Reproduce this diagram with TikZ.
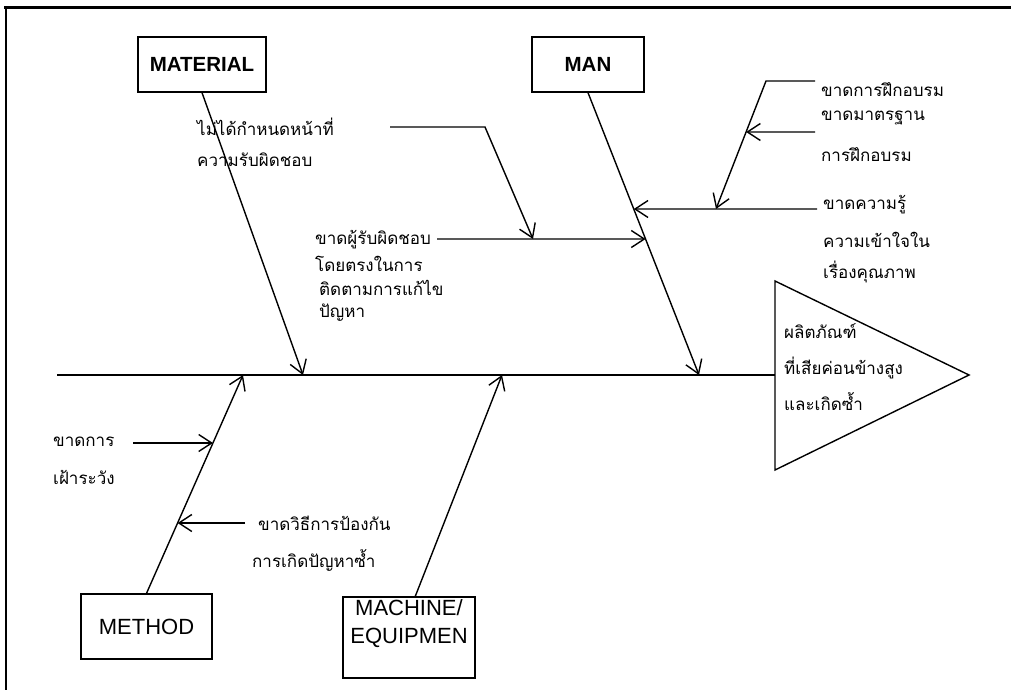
\documentclass[tikz,border=0pt]{standalone}
\usepackage{fontspec}
\setmainfont{Liberation Sans}
\newfontfamily\thaifont[Script=Thai]{Loma}
\usetikzlibrary{arrows.meta,calc}
\begin{document}
\begin{tikzpicture}[x=1pt,y=-1pt,
  bone/.style={line width=1.4pt,line join=miter},
  arrowto/.style={bone,-{Straight Barb[length=13pt,width=17pt]}},
  thai/.style={font=\thaifont\fontsize{17}{20}\selectfont,anchor=west,inner sep=0pt},
  box/.style={draw,line width=1.3pt,inner sep=0pt},
  bigb/.style={font=\bfseries\fontsize{20.5}{22}\selectfont},
  bigr/.style={font=\fontsize{22}{28}\selectfont}]
\useasboundingbox (0,0) rectangle (1011,690);
% frame
\draw[line width=3pt] (4,8) -- (1011,8);
\draw[line width=2pt] (6,8) -- (6,690);

% boxes
\node[box,bigb,minimum width=128pt,minimum height=55pt] (mat) at (202,64.5) {MATERIAL};
\node[box,bigb,minimum width=112pt,minimum height=55pt] (man) at (588,64.5) {MAN};
\node[box,bigr,minimum width=131pt,minimum height=65pt] (meth) at (146.5,626.5) {METHOD};
\node[box,minimum width=132pt,minimum height=81pt] (mach) at (409,637.5) {};
\node[bigr,align=center,inner sep=0pt] (machtxt) at (409,624) {MACHINE/\\EQUIPMEN};

% triangle (effect)
\coordinate (triA) at (775,281);
\coordinate (triT) at (969,375);
\coordinate (triB) at (775,470);
\coordinate (triM) at (775,375);
\draw[bone] (triA) -- (triT) -- (triB) -- cycle;
\node[thai] (eff1) at (784,331) {ผลิตภัณฑ์};
\node[thai] (eff2) at (784,368) {ที่เสียค่อนข้างสูง};
\node[thai] (eff3) at (784,402) {และเกิดซ้ำ};

% spine
\coordinate (spL) at (57,375);
\draw[bone] (spL) -- (triM);

% main bones
\coordinate (matE) at (303,375);
\coordinate (manE) at (699,375);
\coordinate (methE) at (243,375);
\coordinate (machS) at (415,597);
\coordinate (machE) at (502,375);
\draw[arrowto] (mat.south) -- (matE);
\draw[arrowto] (man.south) -- (manE);
\draw[arrowto] (meth.north) -- (methE);
\draw[arrowto] (machS) -- (machE);

% MATERIAL side texts
\node[thai] (t1) at (197,127) {ไม่ได้กำหนดหน้าที่};
\node[thai] (t2) at (197,160) {ความรับผิดชอบ};
\node[thai] (t3) at (315,240) {ขาดผู้รับผิดชอบ};
\node[thai] (t4) at (315,264) {โดยตรงในการ};
\node[thai] (t5) at (319,288) {ติดตามการแก้ไข};
\node[thai] (t6) at (319,313) {ปัญหา};

\coordinate (a0) at (390,127);
\coordinate (a1) at (485,127);
\coordinate (a2) at (533,239);
\draw[arrowto] (a0) -- (a1) -- (a2);

\coordinate (b0) at (437,239);
\coordinate (b1) at (720,239);
\coordinate (bE) at (intersection of b0--b1 and man.south--manE);
\draw[arrowto] (b0) -- (bE);

% MAN side texts
\node[thai] (m1) at (821,90) {ขาดการฝึกอบรม};
\node[thai] (m2) at (821,118) {ขาดมาตรฐาน};
\node[thai] (m3) at (821,155) {การฝึกอบรม};
\node[thai] (m4) at (823,205) {ขาดความรู้};
\node[thai] (m5) at (823,240) {ความเข้าใจใน};
\node[thai] (m6) at (823,272) {เรื่องคุณภาพ};

\coordinate (c0) at (815,81);
\coordinate (c1) at (766,81);
\coordinate (c2) at (716,209);
\draw[arrowto] (c0) -- (c1) -- (c2);

\coordinate (e0) at (815,132);
\coordinate (e1) at (700,132);
\coordinate (eE) at (intersection of e0--e1 and c1--c2);
\draw[arrowto] (e0) -- (eE);

\coordinate (d0) at (817,209);
\coordinate (d1) at (560,209);
\coordinate (dE) at (intersection of d0--d1 and man.south--manE);
\draw[arrowto] (d0) -- (dE);

% METHOD side texts
\node[thai] (h1) at (53,442) {ขาดการ};
\node[thai] (h2) at (53,477) {เฝ้าระวัง};
\node[thai] (h3) at (258,523) {ขาดวิธีการป้องกัน};
\node[thai] (h4) at (252,560) {การเกิดปัญหาซ้ำ};

\coordinate (f0) at (133,443);
\coordinate (f1) at (300,443);
\coordinate (fE) at (intersection of f0--f1 and meth.north--methE);
\draw[arrowto] (f0) -- (fE);

\coordinate (g0) at (245,523);
\coordinate (g1) at (100,523);
\coordinate (gE) at (intersection of g0--g1 and meth.north--methE);
\draw[arrowto] (g0) -- (gE);
\end{tikzpicture}
\end{document}
